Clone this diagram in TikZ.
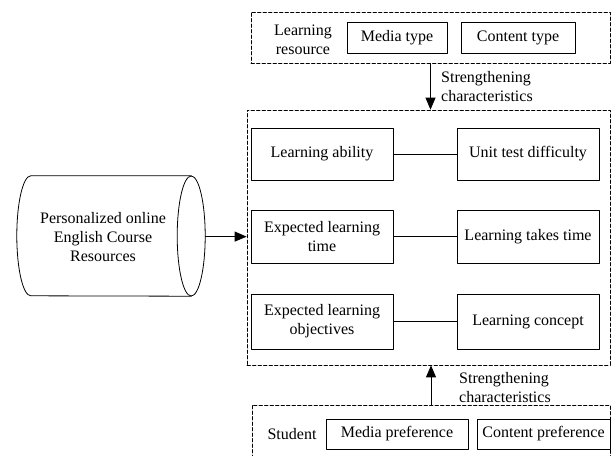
\documentclass[tikz,border=0pt]{standalone}
\usepackage{fontspec}
\setmainfont{Liberation Serif}
\usetikzlibrary{arrows.meta}

\tikzset{
  itembox/.style={draw,line width=0.8pt,minimum width=142pt,minimum height=53pt,inner sep=2pt,align=center},
  smallbox/.style={draw,line width=0.8pt,minimum height=31pt,inner sep=2pt},
  frame/.style={draw,dash pattern=on 3.5pt off 2pt,line width=0.7pt,inner sep=0pt},
  note/.style={align=left,inner sep=0pt,anchor=west}
}

\begin{document}
\begin{tikzpicture}[line cap=round,line join=round,>={Triangle[length=12pt,width=10pt]},x=1pt,y=-1pt,
  every node/.append style={font=\fontsize{16}{19}\selectfont}]
  \useasboundingbox (0,0) rectangle (612,455);
  \clip (0,0) rectangle (612,455);
  % dashed frames
  \node[frame,minimum width=359pt,minimum height=51pt] (resframe) at (430.5,37.5) {};
  \node[frame,minimum width=363pt,minimum height=255pt] (mainframe) at (428.5,237.5) {};
  \node[frame,minimum width=358pt,minimum height=70pt] (stuframe) at (431,440) {};
  % learning resource
  \node[align=center,inner sep=0pt] (reslabel) at (303,40) {Learning\\resource};
  \node[smallbox,minimum width=100pt] (media) at (397,37.5) {Media type};
  \node[smallbox,minimum width=114pt] (content) at (518,37.5) {Content type};
  % student
  \node[inner sep=0pt] (stulabel) at (292,434) {Student};
  \node[smallbox,minimum width=142pt,minimum height=30pt] (mediapref) at (397,434) {Media preference};
  \node[smallbox,minimum width=133pt,minimum height=30pt] (contentpref) at (543.5,434) {Content preference};
  % inner rows
  \node[itembox,minimum height=52pt] (ability) at (322,154) {Learning ability};
  \node[itembox,minimum height=52pt] (difficulty) at (528,154) {Unit test difficulty};
  \node[itembox] (exptime) at (322,236.5) {Expected learning\\time};
  \node[itembox] (taketime) at (528,236.5) {Learning takes time};
  \node[itembox,minimum height=55pt] (objective) at (322,321.5) {Expected learning\\objectives};
  \node[itembox,minimum height=55pt] (concept) at (528,321.5) {Learning concept};
  \draw[line width=0.8pt] (ability) -- (difficulty);
  \draw[line width=0.8pt] (exptime) -- (taketime);
  \draw[line width=0.8pt] (objective) -- (concept);
  % course resources (drum)
  \node[minimum width=188pt,minimum height=120pt,inner sep=0pt] (course) at (111,236) {};
  \node[align=center,inner sep=0pt] (coursetext) at (103,237) {Personalized online\\English Course\\Resources};
  \draw[line width=0.8pt] ([xshift=-14pt]course.north east) -- ([xshift=14pt]course.north west)
    arc[start angle=90,end angle=270,x radius=14pt,y radius=60pt] -- ([xshift=-14pt]course.south east);
  \draw[line width=0.8pt] ([xshift=-14pt]course.east) ellipse[x radius=14pt,y radius=60pt];
  \draw[->,line width=0.8pt] (course) -- (mainframe);
  % strengthening
  \draw[->,line width=0.8pt] (resframe) -- (resframe |- mainframe.north);
  \node[note] (topnote) at (441,87) {Strengthening\\characteristics};
  \draw[->,line width=0.8pt] (stuframe.north) -- (stuframe.north |- mainframe.south);
  \node[note] (botnote) at (459,388) {Strengthening\\characteristics};
\end{tikzpicture}
\end{document}
